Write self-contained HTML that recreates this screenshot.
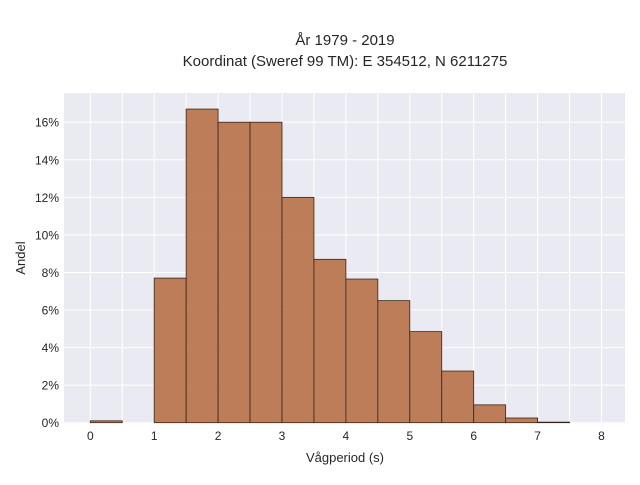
<!DOCTYPE html>
<html><head><meta charset="utf-8"><style>
body{margin:0;background:#fff;font-family:"Liberation Sans",sans-serif;}
svg text{font-family:"Liberation Sans",sans-serif;fill:#262626;}
</style></head><body>
<svg id="chart" width="640" height="480">
<text x="345" y="45" text-anchor="middle" font-size="15">År 1979 - 2019</text>
<text x="345" y="66" text-anchor="middle" font-size="15">Koordinat (Sweref 99 TM): E 354512, N 6211275</text>
<rect x="64" y="93" width="561" height="330" fill="#eaeaf2"/>
<g id="grid"></g><g id="bars"></g><g id="ticks"></g>
<text x="345" y="462" text-anchor="middle" font-size="13">Vågperiod (s)</text>
<text x="25" y="258" text-anchor="middle" font-size="13" transform="rotate(-90 25 258)">Andel</text>
</svg>
<script>
const binStarts=[0,0.5,1,1.5,2,2.5,3,3.5,4,4.5,5,5.5,6,6.5,7,7.5];
const shares=[0.1,0,7.7,16.7,16.0,16.0,12.0,8.7,7.65,6.5,4.85,2.75,0.95,0.25,0.03,0];
const xTicks=[0,1,2,3,4,5,6,7,8];
const yTicks=[0,2,4,6,8,10,12,14,16];
const binWidth=0.5;
const NS="http://www.w3.org/2000/svg";
const sx=v=>90.3+v*63.9;
const sy=v=>422.7-v*18.78;
const grid=document.getElementById('grid'),bars=document.getElementById('bars'),ticks=document.getElementById('ticks');
function mk(tag,attrs,parent){const e=document.createElementNS(NS,tag);for(const k in attrs)e.setAttribute(k,attrs[k]);parent.appendChild(e);return e;}
for(let v=0;v<=8;v+=0.5){
 const g=mk('line',{x1:sx(v),x2:sx(v),y1:93,y2:423,stroke:'#fff','stroke-width':1},grid);
 
 
}
yTicks.forEach(t=>{
 const g=mk('line',{x1:64,x2:625,y1:sy(t),y2:sy(t),stroke:'#fff','stroke-width':1},grid);
 
 
 const l=mk('text',{x:59,y:sy(t)+4.5,'text-anchor':'end','font-size':12},ticks);
 l.textContent=t+'%';
 
 
});
xTicks.forEach(t=>{
 const l=mk('text',{x:sx(t),y:440,'text-anchor':'middle','font-size':12},ticks);
 l.textContent=t;
 
 
});
binStarts.forEach((b,i)=>{
 const v=shares[i]; if(v<=0) return;
 const r=mk('rect',{x:sx(b),y:sy(v),width:sx(b+binWidth)-sx(b),height:sy(0)-sy(v),fill:'#bc7750','fill-opacity':0.95,stroke:'#3a2418','stroke-width':0.8},bars);
 
 
});
</script>
</body></html>
